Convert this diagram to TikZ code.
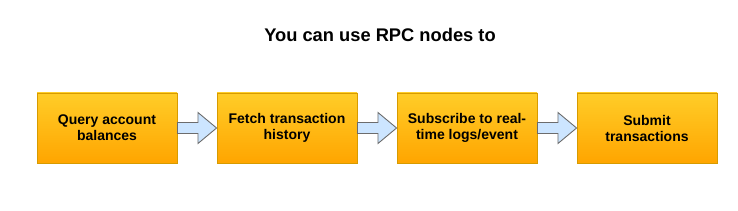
\documentclass[tikz,border=0pt]{standalone}
\usepackage{fontspec}
\setmainfont{Liberation Sans}
\usetikzlibrary{calc}
\definecolor{topc}{HTML}{FFCD28}
\definecolor{botc}{HTML}{FFA500}
\definecolor{boxline}{HTML}{D79B00}
\definecolor{arrfill}{HTML}{CCE5FF}
\definecolor{arrline}{HTML}{6C6C6C}
\tikzset{
  stepbox/.style={draw=boxline, line width=0.9pt, top color=topc, bottom color=botc,
    minimum width=140pt, minimum height=70pt, inner sep=0pt, align=center,
    font=\fontsize{14}{16}\selectfont\bfseries},
  blockarrow/.style={draw=arrline, fill=arrfill, line width=0.9pt, line join=miter}
}
\begin{document}
\begin{tikzpicture}[x=1pt,y=-1pt]
\useasboundingbox (0,0) rectangle (738,211);
\node[font=\fontsize{18.3}{22}\selectfont\bfseries, inner sep=0pt, anchor=base] (title) at (380,42) {You can use RPC nodes to};
\node[stepbox] (b1) at (107,128) {Query account\\balances};
\node[stepbox] (b2) at (287,128) {Fetch transaction\\history};
\node[stepbox] (b3) at (467,128) {Subscribe to real-\\time logs/event};
\node[stepbox] (b4) at (647,128) {Submit\\transactions};
\foreach \a/\b in {b1/b2,b2/b3,b3/b4}{
  \draw[blockarrow] ([yshift=5.5pt]\a.east) -- ([shift={(20.5pt,5.5pt)}]\a.east)
    -- ([shift={(20.5pt,15.5pt)}]\a.east) -- (\b.west)
    -- ([shift={(20.5pt,-15.5pt)}]\a.east) -- ([shift={(20.5pt,-5.5pt)}]\a.east)
    -- ([yshift=-5.5pt]\a.east) -- cycle;
}
\end{tikzpicture}
\end{document}
